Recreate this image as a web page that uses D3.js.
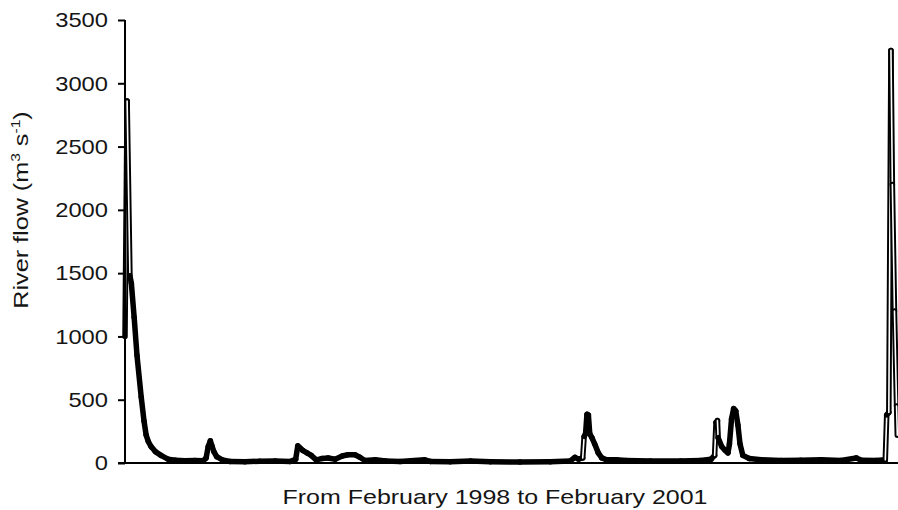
<!DOCTYPE html>
<html>
<head>
<meta charset="utf-8">
<script src="https://cdn.jsdelivr.net/npm/d3@7"></script>
<style>
  body { margin: 0; background: #fff; }
  text { font-family: "Liberation Sans", Arial, sans-serif; fill: #151515; }
</style>
</head>
<body>
<script>
// days since 1 Feb 1998, flow in m3/s
const day = [0, 3, 7, 9, 13, 17, 23, 27, 30, 33, 37, 43, 51, 61, 71, 85, 99, 111, 115, 118,
  121, 123, 126, 130, 138, 149, 170, 191, 213, 234, 242, 245, 248, 252, 258, 264, 271, 279, 288, 298,
  308, 316, 326, 333, 340, 355, 369, 390, 425, 433, 461, 490, 518, 560, 603, 631, 638, 643, 649, 651,
  653, 655, 657, 659, 662, 666, 671, 676, 683, 697, 710, 745, 788, 816, 831, 836, 838, 840, 841, 846,
  851, 855, 857, 860, 863, 866, 869, 872, 876, 885, 902, 930, 958, 987, 1015, 1037, 1044, 1065, 1078, 1080,
  1083, 1086, 1088, 1091, 1094, 1095];
const flow = [1000, 2860, 1480, 1420, 1150, 850, 520, 330, 220, 170, 130, 90, 60, 30, 22, 18, 20, 18, 40, 130,
  175, 140, 90, 50, 25, 12, 10, 14, 15, 12, 30, 135, 120, 100, 80, 60, 25, 35, 40, 30,
  55, 65, 65, 45, 20, 25, 15, 12, 25, 12, 10, 15, 10, 8, 10, 15, 45, 30, 40, 210,
  230, 385, 380, 230, 200, 150, 80, 40, 25, 25, 20, 15, 15, 20, 30, 60, 320, 335, 200, 130,
  100, 80, 150, 350, 430, 410, 300, 150, 60, 35, 25, 20, 22, 25, 20, 40, 22, 20, 25, 380,
  400, 3260, 2200, 1200, 450, 220];
const yTicks = [0, 500, 1000, 1500, 2000, 2500, 3000, 3500];

const width = 898, height = 510;
const m = {left: 125, right: 898, top: 20, bottom: 463};

const svg = d3.select("body").append("svg")
    .attr("width", width)
    .attr("height", height);

const x = d3.scaleLinear().domain([0, 1096]).range([m.left, m.right]);
const y = d3.scaleLinear().domain([0, 3500]).range([m.bottom, m.top]);

const pts = day.map((d, i) => [x(d), y(flow[i])]);
const segs = d3.pairs(pts);

// thick black trace; white core where the trace jumps fast
const g = svg.append("g");
segs.forEach(([a, b]) => {
  g.append("line")
      .attr("x1", a[0]).attr("y1", a[1])
      .attr("x2", b[0]).attr("y2", b[1])
      .attr("stroke", "#000")
      .attr("stroke-width", 5.5)
      .attr("stroke-linecap", "round");
  let dy = Math.abs(b[1] - a[1]), dx = Math.abs(b[0] - a[0]);
  if (dy > 15 && dy / dx > 14) {
    g.append("line")
        .attr("x1", a[0]).attr("y1", a[1])
        .attr("x2", b[0]).attr("y2", b[1])
        .attr("stroke", "#fff")
        .attr("stroke-width", 1.6)
        .attr("stroke-linecap", "round");
  }
});

// axes
const yAxis = svg.append("g")
    .attr("transform", `translate(${m.left},0)`)
    .call(d3.axisLeft(y).tickValues(yTicks).tickSize(7).tickPadding(10).tickFormat(d3.format("d")));
yAxis.select(".domain").attr("stroke-width", 2).attr("d", `M0,${m.top}V${m.bottom}`);
yAxis.selectAll(".tick line").attr("stroke-width", 2);
yAxis.selectAll(".tick text")
    .style("font-size", "21px")
    .style("font-family", "Liberation Sans, Arial, sans-serif")
    .attr("fill", "#151515")
    .attr("lengthAdjust", "spacingAndGlyphs")
    .attr("textLength", d => String(d).length * 13.2);

svg.append("line")
    .attr("x1", m.left - 7).attr("x2", m.right)
    .attr("y1", m.bottom).attr("y2", m.bottom)
    .attr("stroke", "#000")
    .attr("stroke-width", 2);

// titles
svg.append("text")
    .attr("transform", "translate(495,504) scale(1.19,1)")
    .attr("text-anchor", "middle")
    .style("font-size", "21px")
    .text("From February 1998 to February 2001");

const yt = svg.append("text")
    .attr("transform", "translate(28,210) rotate(-90) scale(1.2,1)")
    .attr("text-anchor", "middle")
    .style("font-size", "21px");
yt.append("tspan").text("River flow (m");
yt.append("tspan").attr("dy", -8).style("font-size", "13px").text("3");
yt.append("tspan").attr("dy", 8).text(" s");
yt.append("tspan").attr("dy", -8).style("font-size", "13px").text("-1");
yt.append("tspan").attr("dy", 8).text(")");
</script>
</body>
</html>
